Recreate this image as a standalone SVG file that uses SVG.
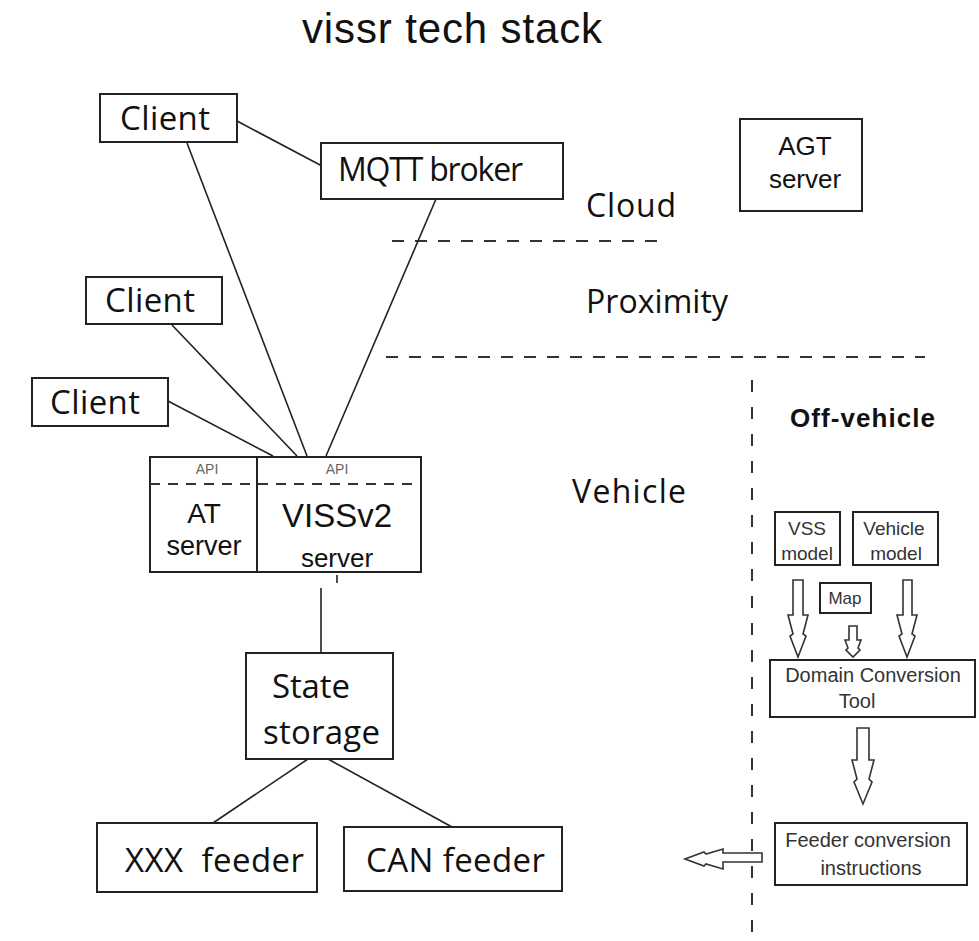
<svg xmlns="http://www.w3.org/2000/svg" width="979" height="941" viewBox="0 0 979 941">
<style>
.box{fill:#fff;stroke:#222;stroke-width:2}
.ln{stroke:#222;stroke-width:1.6;fill:none}
.dash{stroke:#333;stroke-width:2;stroke-dasharray:12 11;fill:none}
.cal{font-family:"Open Sans","Lato",sans-serif;fill:#111}
.ar{font-family:"Liberation Sans",Arial,sans-serif;fill:#111}
.sm{font-family:"Liberation Sans",Arial,sans-serif;fill:#333}
.blk{fill:#fff;stroke:#333;stroke-width:1.6;stroke-linejoin:miter}
</style>
<rect width="979" height="941" fill="#fff"/>
<text class="ar" x="302" y="43" font-size="42" textLength="300">vissr tech stack</text>

<g id="zones">
<line class="dash" x1="392" y1="241" x2="665" y2="241"/>
<line class="dash" x1="386" y1="357" x2="925" y2="357"/>
<line class="dash" x1="752" y1="380" x2="752" y2="941" style="stroke-dasharray:12 15"/>
<text class="cal" x="586" y="217" font-size="32" textLength="90">Cloud</text>
<text class="cal" x="586" y="313" font-size="32" textLength="142">Proximity</text>
<text class="cal" x="572" y="503" font-size="32" textLength="114">Vehicle</text>
<text class="ar" x="790" y="427" font-size="26" font-weight="bold" textLength="145">Off-vehicle</text>
</g>

<g id="connectors">
<line class="ln" x1="237" y1="121" x2="322" y2="166"/>
<line class="ln" x1="187" y1="143" x2="307" y2="456"/>
<line class="ln" x1="436" y1="199" x2="326" y2="456"/>
<line class="ln" x1="172" y1="325" x2="297" y2="456"/>
<line class="ln" x1="168" y1="401" x2="273" y2="456"/>
<line class="ln" x1="337" y1="575" x2="337" y2="583"/>
<line class="ln" x1="321" y1="588" x2="321" y2="653"/>
<line class="ln" x1="308" y1="759" x2="213" y2="823"/>
<line class="ln" x1="328" y1="759" x2="452" y2="827"/>
</g>

<g id="client1">
<rect class="box" x="100" y="94" width="137" height="48"/>
<text class="cal" x="120" y="130" font-size="33" textLength="90">Client</text>
</g>
<g id="mqtt">
<rect class="box" x="321" y="143" width="242" height="56"/>
<text class="cal" x="338" y="181" font-size="32" textLength="185">MQTT broker</text>
</g>
<g id="agt">
<rect class="box" x="740" y="119" width="122" height="92"/>
<text class="ar" x="805" y="155" font-size="26" text-anchor="middle">AGT</text>
<text class="ar" x="805" y="188" font-size="26" text-anchor="middle">server</text>
</g>
<g id="client2">
<rect class="box" x="86" y="277" width="136" height="47"/>
<text class="cal" x="105" y="312" font-size="33" textLength="90">Client</text>
</g>
<g id="client3">
<rect class="box" x="32" y="378" width="136" height="48"/>
<text class="cal" x="50" y="414" font-size="33" textLength="90">Client</text>
</g>
<g id="servers">
<rect class="box" x="150" y="457" width="271" height="115"/>
<line class="ln" x1="257" y1="457" x2="257" y2="572" style="stroke-width:2"/>
<line class="dash" x1="150" y1="484" x2="421" y2="484" style="stroke-dasharray:10 8"/>
<text class="sm" x="207" y="474" font-size="14" text-anchor="middle" style="fill:#666">API</text>
<text class="sm" x="337" y="474" font-size="14" text-anchor="middle" style="fill:#666">API</text>
<text class="ar" x="204" y="523" font-size="28" text-anchor="middle">AT</text>
<text class="ar" x="204" y="555" font-size="27" text-anchor="middle">server</text>
<text class="ar" x="337" y="527" font-size="33" text-anchor="middle">VISSv2</text>
<text class="ar" x="337" y="567" font-size="26" text-anchor="middle">server</text>
</g>
<g id="state">
<rect class="box" x="246" y="653" width="147" height="106"/>
<text class="cal" x="272" y="698" font-size="33" textLength="78">State</text>
<text class="cal" x="263" y="744" font-size="33" textLength="117">storage</text>
</g>
<g id="xxx">
<rect class="box" x="97" y="823" width="220" height="69"/>
<text class="cal" x="125" y="872" font-size="33" textLength="179" xml:space="preserve">XXX  feeder</text>
</g>
<g id="can">
<rect class="box" x="344" y="827" width="218" height="64"/>
<text class="cal" x="366" y="872" font-size="33" textLength="179">CAN feeder</text>
</g>

<g id="vss">
<rect class="box" x="775" y="512" width="65" height="53"/>
<text class="sm" x="807" y="535" font-size="19" text-anchor="middle">VSS</text>
<text class="sm" x="807" y="560" font-size="19" text-anchor="middle">model</text>
</g>
<g id="vehmodel">
<rect class="box" x="853" y="512" width="85" height="53"/>
<text class="sm" x="894" y="535" font-size="19" text-anchor="middle">Vehicle</text>
<text class="sm" x="896" y="560" font-size="19" text-anchor="middle">model</text>
</g>
<g id="map">
<rect class="box" x="820" y="583" width="51" height="30"/>
<text class="sm" x="845" y="604" font-size="17" text-anchor="middle">Map</text>
</g>
<g id="domain">
<rect class="box" x="770" y="660" width="205" height="57"/>
<text class="sm" x="873" y="682" font-size="20" text-anchor="middle">Domain Conversion</text>
<text class="sm" x="857" y="708" font-size="20" text-anchor="middle">Tool</text>
</g>
<g id="feederconv">
<rect class="box" x="775" y="823" width="192" height="62"/>
<text class="sm" x="868" y="847" font-size="20" text-anchor="middle">Feeder conversion</text>
<text class="sm" x="871" y="875" font-size="20" text-anchor="middle">instructions</text>
</g>

<g id="arrows">
<polygon class="blk" points="793,580 803,580 803,615 808,615 803,634 806,636 798,657 790,636 793,634 788,615 793,615"/>
<polygon class="blk" points="849,626 857,626 857,640 861,640 858,648 860,650 853,657 846,650 848,648 845,640 849,640"/>
<polygon class="blk" points="903,580 912,580 912,615 917,615 912,634 915,636 907,657 899,636 902,634 897,615 903,615"/>
<polygon class="blk" points="857,728 869,728 869,760 874,760 869,779 872,782 863,804 854,782 857,779 852,760 857,760"/>
<polygon class="blk" points="762,853 762,862 723,862 723,869 706,864 704,866 685,859 704,852 706,854 723,849 723,853"/>
</g>
</svg>
